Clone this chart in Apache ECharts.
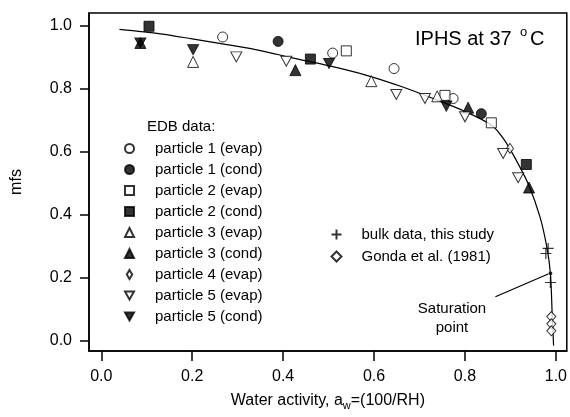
<!DOCTYPE html>
<html>
<head>
<meta charset="utf-8">
<style>
  html, body { margin: 0; padding: 0; background: #fff; }
  #chart { width: 570px; height: 417px; }
</style>
<script src="https://cdn.jsdelivr.net/npm/echarts@6/dist/echarts.min.js"></script>
</head>
<body>
<div id="chart"></div>
<script>
  // EDB data, [water activity, mfs]
  const p1Evap = [[0.267, 0.963], [0.509, 0.912], [0.644, 0.863], [0.774, 0.768]];
  const p1Cond = [[0.389, 0.949], [0.836, 0.720]];
  const p2Evap = [[0.539, 0.919], [0.756, 0.778], [0.858, 0.691]];
  const p2Cond = [[0.105, 0.997], [0.460, 0.893], [0.935, 0.559]];
  const p3Evap = [[0.202, 0.884], [0.594, 0.823], [0.739, 0.775]];
  const p3Cond = [[0.086, 0.944], [0.427, 0.858], [0.807, 0.739], [0.941, 0.486]];
  const p4Evap = [[0.899, 0.610]];
  const p5Evap = [[0.297, 0.900], [0.407, 0.886], [0.649, 0.781], [0.712, 0.768],
                  [0.800, 0.710], [0.884, 0.594], [0.917, 0.517]];
  const p5Cond = [[0.086, 0.944], [0.202, 0.923], [0.501, 0.879], [0.759, 0.744]];
  const bulk = [[0.983, 0.293], [0.978, 0.277], [0.988, 0.185]];
  const gonda = [[0.990, 0.077], [0.990, 0.054], [0.990, 0.032]];
  const saturation = [[0.988, 0.214]];
  const fitCurve = [[0.04, 0.987], [0.13, 0.973], [0.20, 0.957], [0.28, 0.938], [0.35, 0.920],
                    [0.42, 0.897], [0.50, 0.872], [0.58, 0.843], [0.66, 0.806], [0.73, 0.768],
                    [0.80, 0.727], [0.86, 0.682], [0.885, 0.640], [0.91, 0.580], [0.94, 0.495],
                    [0.965, 0.393], [0.98, 0.298], [0.988, 0.214], [0.992, 0.08], [0.995, -0.015]];
  const arrowLine = [[0.867, 0.140], [0.983, 0.212]];
  const xTicks = [0, 0.2, 0.4, 0.6, 0.8, 1.0];
  const yTicks = [0, 0.2, 0.4, 0.6, 0.8, 1.0];

  const FONT = 'Liberation Sans';
  const downTri = 'path://M0,0L10,0L5,9Z';
  const cross = 'path://M5,0L5,10M0,5L10,5';
  const open = { color: '#fff', borderColor: '#000', borderWidth: 1 };
  const filled = { color: '#000', borderColor: '#000', borderWidth: 1 };

  function scatter(name, data, symbol, size, style) {
    return {
      name: name,
      type: 'scatter',
      data: data,
      symbol: symbol,
      symbolSize: size,
      itemStyle: style,
      z: 5
    };
  }

  const chart = echarts.init(document.getElementById('chart'));
  const option = {
    animation: false,
    textStyle: { fontFamily: FONT, color: '#000' },
    grid: {
      left: 89, right: 3, top: 13, bottom: 66,
      show: true, borderColor: '#000', borderWidth: 1.5
    },
    xAxis: {
      type: 'value',
      min: -0.027,
      max: 1.024,
      splitLine: { show: false },
      axisLine: { show: true, onZero: false, lineStyle: { color: '#000', width: 1.5 } },
      axisTick: { customValues: xTicks, length: 10, lineStyle: { color: '#000', width: 1.5 } },
      axisLabel: {
        customValues: xTicks,
        formatter: function(v) { return v.toFixed(1); },
        fontSize: 16, margin: 18, color: '#000', fontFamily: FONT
      },
      name: 'Water activity, a{sub|w}=(100/RH)',
      nameLocation: 'middle',
      nameGap: 40,
      nameTextStyle: {
        fontSize: 16, color: '#000', fontFamily: FONT,
        rich: { sub: { fontSize: 11, fontFamily: FONT, color: '#000', padding: [9, 0, 0, 0] } }
      }
    },
    yAxis: {
      type: 'value',
      min: -0.032,
      max: 1.039,
      splitLine: { show: false },
      axisLine: { show: true, onZero: false, lineStyle: { color: '#000', width: 1.5 } },
      axisTick: { customValues: yTicks, length: 9, lineStyle: { color: '#000', width: 1.5 } },
      axisLabel: {
        customValues: yTicks,
        formatter: function(v) { return v.toFixed(1); },
        fontSize: 16, margin: 17, color: '#000', fontFamily: FONT
      },
      name: 'mfs',
      nameLocation: 'middle',
      nameGap: 64,
      nameTextStyle: { fontSize: 16, color: '#000', fontFamily: FONT }
    },
    legend: [
      {
        orient: 'vertical',
        left: 119,
        top: 136,
        itemWidth: 9,
        itemHeight: 9,
        itemGap: 6,
        selectedMode: false,
        textStyle: { fontSize: 15, fontFamily: FONT, color: '#000', padding: [0, 0, 0, 16] },
        data: ['particle 1 (evap)', 'particle 1 (cond)', 'particle 2 (evap)', 'particle 2 (cond)',
               'particle 3 (evap)', 'particle 3 (cond)',
               { name: 'particle 4 (evap)', icon: 'path://M3,0L6,5L3,10L0,5Z' },
               'particle 5 (evap)', 'particle 5 (cond)']
      },
      {
        orient: 'vertical',
        left: 324,
        top: 222,
        itemWidth: 10,
        itemHeight: 10,
        itemGap: 7,
        selectedMode: false,
        textStyle: { fontSize: 15, fontFamily: FONT, color: '#000', padding: [0, 0, 0, 15] },
        data: ['bulk data, this study', 'Gonda et al. (1981)']
      }
    ],
    graphic: [
      { type: 'text', left: 147, top: 119,
        style: { text: 'EDB data:', font: '15px ' + FONT, fill: '#000' } },
      { type: 'text', left: 415, top: 29,
        style: { text: 'IPHS at 37', font: '20px ' + FONT, fill: '#000' } },
      { type: 'text', left: 520, top: 26,
        style: { text: 'o', font: '13px ' + FONT, fill: '#000' } },
      { type: 'text', left: 530, top: 29,
        style: { text: 'C', font: '20px ' + FONT, fill: '#000' } },
      { type: 'text', x: 452, y: 301,
        style: { text: 'Saturation', font: '15px ' + FONT, fill: '#000', align: 'center' } },
      { type: 'text', x: 452, y: 320,
        style: { text: 'point', font: '15px ' + FONT, fill: '#000', align: 'center' } }
    ],
    series: [
      {
        name: 'fit',
        type: 'line',
        data: fitCurve,
        smooth: 0.3,
        showSymbol: false,
        symbol: 'none',
        lineStyle: { color: '#000', width: 1.2 },
        silent: true,
        z: 3,
        markLine: {
          silent: true,
          symbol: ['none', 'arrow'],
          symbolSize: [0, 9],
          label: { show: false },
          lineStyle: { color: '#000', width: 1.2, type: 'solid' },
          data: [[{ coord: arrowLine[0] }, { coord: arrowLine[1] }]]
        }
      },
      scatter('particle 1 (evap)', p1Evap, 'circle', 10, open),
      scatter('particle 1 (cond)', p1Cond, 'circle', 10, filled),
      scatter('particle 2 (evap)', p2Evap, 'rect', 10, open),
      scatter('particle 2 (cond)', p2Cond, 'rect', 10, filled),
      scatter('particle 3 (evap)', p3Evap, 'triangle', 11, open),
      scatter('particle 3 (cond)', p3Cond, 'triangle', 11, filled),
      scatter('particle 4 (evap)', p4Evap, 'diamond', [7, 10], open),
      scatter('particle 5 (evap)', p5Evap, downTri, [11, 10], open),
      scatter('particle 5 (cond)', p5Cond, downTri, [11, 10], filled),
      scatter('bulk data, this study', bulk, cross, 11, { color: 'none', borderColor: '#000', borderWidth: 1.2 }),
      scatter('Gonda et al. (1981)', gonda, 'diamond', [9, 10], open),
      scatter('saturation', saturation, 'circle', 3, filled)
    ]
  };
  chart.setOption(option);
</script>
</body>
</html>
